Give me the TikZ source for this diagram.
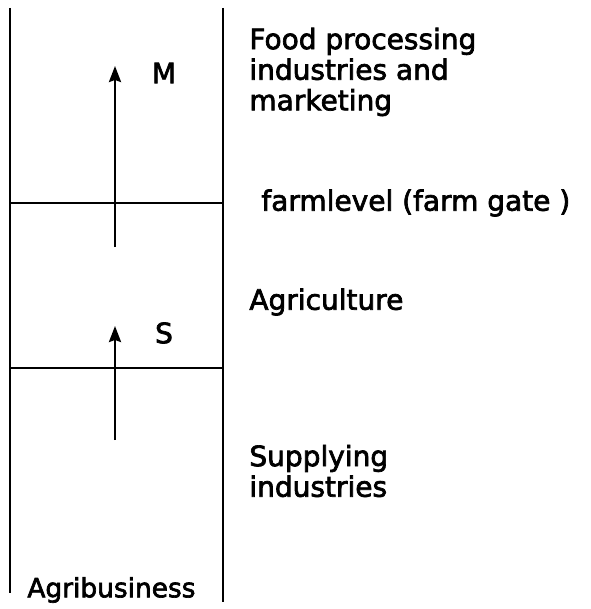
\documentclass[tikz,border=0pt]{standalone}
\usepackage{fontspec}
\setmainfont{DejaVu Sans}
\newfontfamily\diagfont{DejaVu Sans}[FakeBold=2.5]
\usepackage{tikz}
\usetikzlibrary{positioning,arrows.meta}

\begin{document}
\begin{tikzpicture}[x=0.5pt, y=-0.5pt, >={Stealth[length=8pt,width=6pt,inset=1pt]},
    wall/.style={line width=1.2pt},
    level/.style={line width=1.1pt},
    flow/.style={->, line width=1.2pt},
    lbl/.style={inner sep=0pt, anchor=west, align=left, font=\diagfont\fontsize{14}{15.3}\selectfont}]
      \useasboundingbox (0,0) rectangle (590,609);
      % Frame
      \coordinate (lt) at (10,8);
      \coordinate (lb) at (10,593);
      \coordinate (rt) at (223,8);
      \coordinate (rb) at (223,602);
      \coordinate (g1) at (10,203);
      \coordinate (g2) at (223,203);
      \coordinate (s1) at (10,368);
      \coordinate (s2) at (223,368);

      % Arrow ends
      \coordinate (m0) at (115,247);
      \coordinate (m1) at (115,66);
      \coordinate (a0) at (115,440);
      \coordinate (a1) at (115,326);

      % Nodes
      \node [lbl] (food) at (249,72) {Food processing\\industries and\\marketing};
      \node [lbl] (gate) at (261,203) {farmlevel (farm gate )};
      \node [lbl] (agri) at (249,302) {Agriculture};
      \node [lbl] (supply) at (249,471) {Supplying\\industries};
      \node [lbl, font=\diagfont\fontsize{13.2}{15}\selectfont] (busi) at (27,590) {Agribusiness};
      \node [lbl, anchor=center] (m) at (164,73) {M};
      \node [lbl, anchor=center] (s) at (164,333) {S};

      % Lines
      \draw [wall] (lt) -- (lb);
      \draw [wall] (rt) -- (rb);
      \draw [level] (g1) -- (g2);
      \draw [level] (s1) -- (s2);

      % Arrows
      \draw [flow] (m0) -- (m1);
      \draw [flow] (a0) -- (a1);
    \end{tikzpicture}
\end{document}
